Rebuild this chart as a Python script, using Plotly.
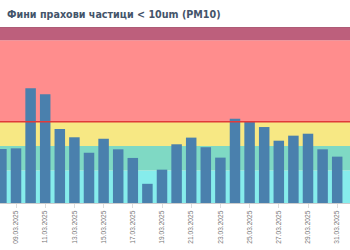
import plotly.graph_objects as go

dates = ["08.03.2025", "09.03.2025", "10.03.2025", "11.03.2025", "12.03.2025", "13.03.2025",
         "14.03.2025", "15.03.2025", "16.03.2025", "17.03.2025", "18.03.2025", "19.03.2025",
         "20.03.2025", "21.03.2025", "22.03.2025", "23.03.2025", "24.03.2025", "25.03.2025",
         "26.03.2025", "27.03.2025", "28.03.2025", "29.03.2025", "30.03.2025", "31.03.2025"]
pm10 = [33.2, 33.6, 70.5, 66.9, 45.5, 40.4, 30.9, 39.5, 33.0, 27.7, 11.8, 20.5,
        36.1, 40.2, 34.3, 27.9, 51.8, 50.4, 46.7, 38.3, 41.4, 42.6, 33.0, 28.5]
tick_labels = dates[1::2]
band_edges = [0, 20, 35, 50, 100, 108.2]
band_colors = ["#86ecec", "#7fd9c4", "#f7e884", "#ff8d8d", "#bd5f7c"]
limit = 50

fig = go.Figure()
fig.add_trace(go.Bar(x=dates, y=pm10, marker=dict(color="#4a80ad", line=dict(width=0)),
                     width=0.72))

shapes = []
for i, c in enumerate(band_colors):
    shapes.append(dict(type="rect", xref="paper", yref="y", x0=0, x1=1,
                       y0=band_edges[i], y1=band_edges[i + 1], fillcolor=c,
                       line=dict(width=0), layer="below"))
shapes.append(dict(type="line", xref="paper", yref="y", x0=0, x1=1, y0=limit, y1=limit,
                   line=dict(color="#e03a3a", width=1.5)))
shapes.append(dict(type="line", xref="paper", yref="y", x0=0, x1=1, y0=108.2, y1=108.2,
                   line=dict(color="#a05a70", width=1)))

fig.update_layout(
    width=350, height=250,
    margin=dict(l=0, r=0, t=27, b=47),
    paper_bgcolor="white", plot_bgcolor="white",
    showlegend=False,
    shapes=shapes,
    title=dict(text="Фини прахови частици < 10um (PM10)", x=0.02, xanchor="left",
               yref="container", y=1 - 15 / 250, yanchor="middle",
               font=dict(family="DejaVu Sans", size=9.6, color="#44546a", weight="bold")),
    xaxis=dict(type="category", range=[-0.096, 23.877], tickmode="array",
               tickvals=tick_labels, ticktext=tick_labels, tickangle=-90,
               tickfont=dict(family="Liberation Sans", size=6.6, color="#777777"),
               showline=True, linecolor="#cccccc", linewidth=1,
               ticks="outside", ticklen=4, tickcolor="#dddddd", showgrid=False),
    yaxis=dict(range=[0, 108.2], visible=False, showgrid=False),
    bargap=0.28,
)

fig.write_html("out.html")
